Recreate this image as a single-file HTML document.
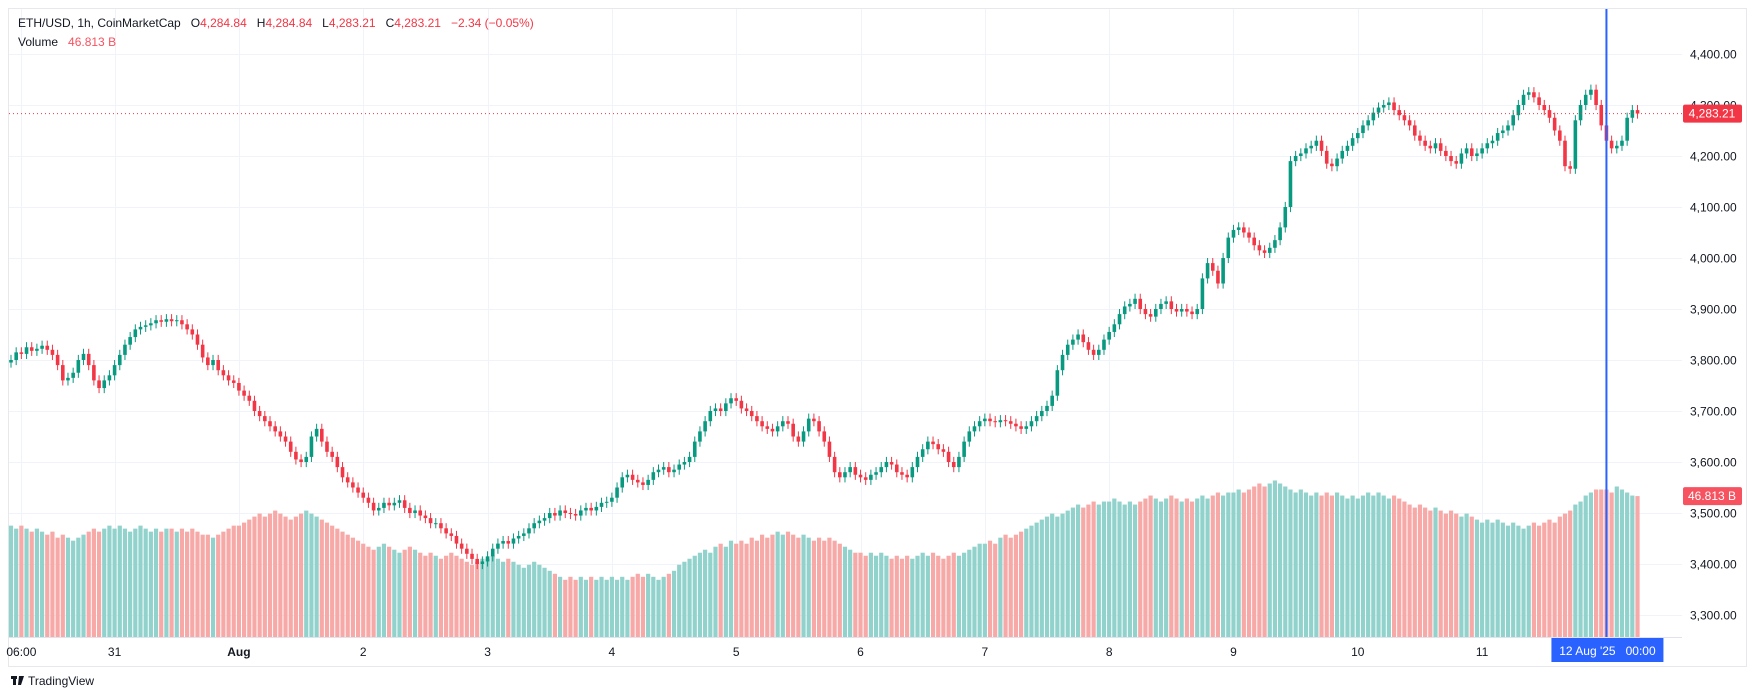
<!DOCTYPE html>
<html><head><meta charset="utf-8">
<style>
html,body{margin:0;padding:0;background:#fff;width:1756px;height:700px;overflow:hidden;font-family:"Liberation Sans",sans-serif;}
svg{position:absolute;left:0;top:0;}
.pre{white-space:pre;}
</style></head>
<body>
<svg id="chart" width="1756" height="700">
  <rect x="8.5" y="8.5" width="1738" height="658" fill="#fff" stroke="#e6e8ee"/>
  <g id="grid"></g>
  <g id="vol"></g>
  <g id="candles"></g>
  <line x1="8" x2="1682" y1="637.5" y2="637.5" stroke="#e0e3eb"/>
  <g id="yaxis"></g>
  <g id="xaxis"></g>
  <text class="pre" xml:space="preserve" x="18" y="27" font-size="12" fill="#131722">ETH/USD, 1h, CoinMarketCap   O<tspan fill="#f23645">4,284.84</tspan>   H<tspan fill="#f23645">4,284.84</tspan>   L<tspan fill="#f23645">4,283.21</tspan>   C<tspan fill="#f23645">4,283.21</tspan>   <tspan fill="#f23645">−2.34 (−0.05%)</tspan></text>
  <text class="pre" xml:space="preserve" x="18" y="46" font-size="12" fill="#131722">Volume   <tspan fill="#f7525f">46.813 B</tspan></text>
  <g>
    <rect x="11" y="676" width="6" height="3" fill="#131722"/><rect x="13" y="676" width="3" height="9" fill="#131722"/>
    <polygon points="19,676 24,676 21,685 18,685" fill="#131722"/>
    <text x="28" y="685" font-size="12" fill="#131722">TradingView</text>
  </g>
</svg>
<script>
const closes = [
3800,3815,3812,3825,3818,3822,3828,3820,3810,3790,3760,3765,3775,3800,3812,3790,3760,3745,3760,3770,
3790,3810,3830,3845,3860,3865,3868,3872,3878,3875,3880,3876,3878,3870,3860,3850,3830,3805,3790,3800,3780,3770,3760,3755,
3740,3730,3720,3700,3690,3680,3670,3660,3650,3640,3620,3605,3600,3610,3650,3665,3640,3620,3610,3590,3570,3560,3550,3540,
3530,3520,3505,3510,3520,3515,3520,3525,3510,3500,3505,3495,3490,3480,3480,3470,3460,3455,3440,3430,3420,3410,3400,3405,
3415,3430,3440,3445,3440,3450,3455,3460,3470,3480,3485,3490,3500,3495,3505,3500,3498,3495,3505,3510,3505,3512,3520,3522,
3530,3550,3570,3575,3565,3560,3555,3565,3580,3585,3590,3580,3585,3595,3600,3610,3640,3660,3680,3700,3705,3700,3715,3725,
3720,3705,3700,3690,3680,3670,3665,3660,3670,3680,3675,3650,3640,3660,3685,3680,3660,3640,3610,3580,3570,3580,3590,3575,
3570,3565,3575,3580,3590,3600,3595,3580,3575,3570,3590,3610,3625,3640,3635,3625,3620,3600,3590,3610,3640,3660,3670,3680,
3685,3680,3678,3682,3680,3675,3670,3665,3670,3680,3690,3700,3710,3730,3780,3810,3830,3840,3850,3835,3820,3810,3820,3840,
3855,3870,3890,3905,3910,3920,3900,3890,3885,3900,3910,3915,3900,3895,3900,3895,3890,3900,3960,3990,3975,3950,4000,4040,
4055,4060,4050,4040,4025,4015,4010,4020,4035,4060,4100,4190,4200,4205,4215,4220,4230,4210,4185,4180,4195,4210,4220,4235,
4245,4260,4270,4285,4295,4300,4305,4290,4280,4270,4260,4240,4230,4220,4215,4225,4210,4200,4190,4185,4205,4215,4200,4205,
4215,4225,4230,4245,4250,4260,4280,4300,4320,4325,4315,4300,4290,4275,4250,4230,4180,4175,4270,4300,4320,4330,4300,4260,
4230,4215,4220,4230,4275,4290,4283.21];
const volumes = [
37,36,37,36,35,36,35,34,35,33,34,33,32,33,34,35,36,35,36,37,
36,37,36,35,36,37,36,35,36,35,36,36,35,36,35,36,35,34,34,33,34,35,36,37,
37,38,39,40,41,40,41,42,41,40,39,40,41,42,41,40,39,38,37,36,35,34,33,32,
31,30,29,30,31,30,29,28,29,30,29,28,27,28,27,26,27,28,27,26,25,24,25,26,
26,27,26,25,26,25,24,23,24,25,24,23,22,21,20,19,20,19,20,19,20,19,20,19,
20,19,20,19,20,21,20,21,20,19,20,21,22,24,25,26,27,28,29,28,30,31,30,32,
31,32,31,33,32,34,33,34,35,34,35,34,33,34,33,32,33,32,33,32,31,30,29,28,
28,27,28,27,28,27,26,27,26,27,26,27,28,27,28,27,26,27,28,27,28,29,30,31,
31,32,31,33,34,33,34,35,36,37,38,39,40,41,40,41,42,43,44,43,44,45,44,45,
45,46,45,44,45,44,45,46,47,46,45,46,47,46,45,46,45,46,47,46,47,48,47,48,
48,49,48,49,50,51,50,51,52,51,50,49,48,49,48,47,48,47,48,47,48,47,46,47,
46,47,48,47,48,47,46,47,46,45,44,43,44,43,42,43,42,41,42,41,40,41,40,39,
38,39,38,39,38,37,38,37,36,37,38,37,38,39,38,40,41,42,44,45,47,48,49,49,
49,48,50,49,48,47,46.813];
const priceTicks = [4400,4300,4200,4100,4000,3900,3800,3700,3600,3500,3400,3300];
const timeLabels = ["06:00","31","Aug","2","3","4","5","6","7","8","9","10","11"];
const timeLabelIdx = [2,20,44,68,92,116,140,164,188,212,236,260,284];
const firstOpen = 3795;
const lastPrice = 4283.21;
const lastVolume = "46.813 B";

const NS="http://www.w3.org/2000/svg";
const X0=11, DX=5.18;
const xs=i=>X0+i*DX;
const ys=p=>615-(p-3300)*0.51;
const yv=v=>637-v*3.01;
function mk(tag,attrs,parent){const e=document.createElementNS(NS,tag);for(const k in attrs)e.setAttribute(k,attrs[k]);parent.appendChild(e);return e;}
const grid=document.getElementById('grid'),vol=document.getElementById('vol'),cg=document.getElementById('candles');
const ya=document.getElementById('yaxis'),xa=document.getElementById('xaxis');

priceTicks.forEach(p=>{
  const y=Math.round(ys(p))+0.5;
  const l=mk('line',{x1:9,x2:1682,y1:y,y2:y,stroke:'#f0f3fa'},grid);
  
  
  const t=mk('text',{x:1690,y:y+4,'font-size':12,fill:'#131722'},ya);
  t.textContent=p.toLocaleString('en-US',{minimumFractionDigits:2});
  
  
});
timeLabels.forEach((s,k)=>{
  const x=xs(timeLabelIdx[k]);
  const l=mk('line',{x1:Math.round(x)+0.5,x2:Math.round(x)+0.5,y1:9,y2:637,stroke:'#f0f3fa'},grid);
  
  
  const t=mk('text',{x:x,y:656,'font-size':12,fill:'#131722','text-anchor':'middle','font-weight':s==='Aug'?'bold':'normal'},xa);
  t.textContent=s;
  
  
});

let prev=firstOpen;
closes.forEach((c,i)=>{
  const o=prev; prev=c;
  const up=c>=o;
  const x=xs(i);
  const hi=Math.max(o,c)+10, lo=Math.min(o,c)-10;
  const vb=mk('rect',{x:x-2.1,y:yv(volumes[i]),width:4.2,height:637-yv(volumes[i]),fill:up?'#92d2cc':'#f7a9a7'},vol);
  
  
  const col=up?'#089981':'#f23645';
  const w=mk('line',{x1:x,x2:x,y1:ys(hi),y2:ys(lo),stroke:col,'stroke-width':1},cg);
  
  
  const top=ys(Math.max(o,c)),bh=Math.max(1,ys(Math.min(o,c))-top);
  const b=mk('rect',{x:x-1.8,y:top,width:3.6,height:bh,fill:col},cg);
  
  
});

const ly=ys(lastPrice);
const pl=mk('line',{x1:9,x2:1682,y1:ly,y2:ly,stroke:'#f23645','stroke-dasharray':'1,3'},cg);


const pr=mk('rect',{x:1683,y:ly-9,width:59,height:18,fill:'#f23645',rx:2},ya);


const pt=mk('text',{x:1712,y:ly+4,'font-size':12,fill:'#fff','text-anchor':'middle'},ya);
pt.textContent=lastPrice.toLocaleString('en-US',{minimumFractionDigits:2});


const vy=yv(volumes[volumes.length-1]);
const vr=mk('rect',{x:1683,y:vy-9,width:59,height:18,fill:'#f7525f',rx:2},ya);


const vt=mk('text',{x:1712,y:vy+4,'font-size':12,fill:'#fff','text-anchor':'middle'},ya);
vt.textContent=lastVolume;



const cx=xs(308);
const ch=mk('line',{x1:cx,x2:cx,y1:9,y2:637,stroke:'#2962ff','stroke-width':2},xa);


const cb=mk('rect',{x:cx-55,y:638,width:112,height:24,fill:'#2962ff'},xa);


const ct=mk('text',{x:cx+1,y:655,'font-size':12,fill:'#fff','text-anchor':'middle',class:'pre'},xa);
ct.textContent="12 Aug '25   00:00";


</script>
</body></html>
